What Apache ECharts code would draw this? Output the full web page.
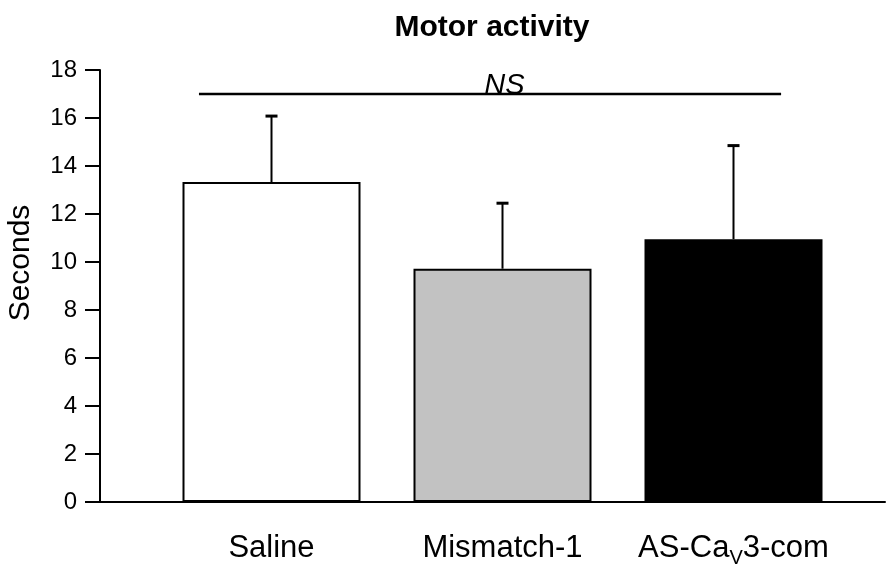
<!DOCTYPE html>
<html>
<head>
<meta charset="utf-8">
<script src="https://cdn.jsdelivr.net/npm/echarts@6/dist/echarts.min.js"></script>
<style>
  html, body { margin: 0; padding: 0; background: #fff; }
</style>
</head>
<body>
<div id="motor_chart" style="width: 887px; height: 567px"></div>
<script>
// data
var categories = ['Saline', 'Mismatch-1', 'AS-CaV3-com']
var means = [13.33, 9.72, 10.95]
var sem = [2.75, 2.73, 3.9]
var barColors = ['#ffffff', '#c2c2c2', '#000000']
var yMin = 0
var yMax = 18
var yStep = 2
var nsLevel = 17

var FONT = 'Liberation Sans, Arial, sans-serif'

// label with subscript V for the last group
var richLabels = {
  'AS-CaV3-com': '{a|AS-Ca}{s|V}{a|3-com}'
}

var myChart = echarts.init(document.getElementById('motor_chart'))

var barData = means.map(function (m, i) {
  return {value: m, itemStyle: {color: barColors[i]}}
})

var errData = means.map(function (m, i) {
  return [i, m, m + sem[i]]
})

var option = {
  backgroundColor: '#fff',
  animation: false,
  title: {
    text: 'Motor activity',
    left: 487,
    top: 8,
    textAlign: 'center',
    textStyle: {fontFamily: FONT, fontSize: 30, fontWeight: 'bold', color: '#000'}
  },
  grid: [
    {left: 156, right: 38, top: 70, bottom: 65, outerBoundsMode: 'none'},
    {left: 100, right: 2, top: 70, bottom: 65, outerBoundsMode: 'none'}
  ],
  xAxis: [
    {
      type: 'category',
      gridIndex: 0,
      data: categories,
      axisLine: {show: false},
      axisTick: {show: false},
      axisLabel: {
        margin: 31,
        color: '#000',
        formatter: function (v) {
          return richLabels[v] || '{a|' + v + '}'
        },
        rich: {
          a: {fontFamily: FONT, fontSize: 31, color: '#000', verticalAlign: 'bottom', padding: [0, 0, 4, 0]},
          s: {fontFamily: FONT, fontSize: 20, color: '#000', verticalAlign: 'bottom'}
        }
      }
    },
    {
      type: 'value',
      gridIndex: 1,
      min: 0,
      max: 1,
      axisLine: {show: true, onZero: false, lineStyle: {color: '#000', width: 2}},
      axisTick: {show: false},
      axisLabel: {show: false},
      splitLine: {show: false}
    }
  ],
  yAxis: [
    {
      type: 'value',
      gridIndex: 0,
      min: yMin,
      max: yMax,
      interval: yStep,
      offset: 56,
      name: 'Seconds',
      nameLocation: 'middle',
      nameGap: 64,
      nameTextStyle: {fontFamily: FONT, fontSize: 30, color: '#000', padding: [0, 0, 0, 46]},
      axisLine: {show: true, lineStyle: {color: '#000', width: 2}},
      axisTick: {show: true, inside: false, length: 15, lineStyle: {color: '#000', width: 2}},
      axisLabel: {margin: 23, fontFamily: FONT, fontSize: 24, color: '#000'},
      splitLine: {show: false}
    },
    {
      type: 'value',
      gridIndex: 1,
      show: false
    }
  ],
  series: [
    {
      type: 'bar',
      xAxisIndex: 0,
      yAxisIndex: 0,
      barWidth: 178,
      data: barData,
      itemStyle: {borderColor: '#000', borderWidth: 2}
    },
    {
      type: 'custom',
      xAxisIndex: 0,
      yAxisIndex: 0,
      data: errData,
      z: 3,
      renderItem: function (params, api) {
        var x = api.value(0)
        var base = api.coord([x, api.value(1)])
        var top = api.coord([x, api.value(2)])
        return {
          type: 'group',
          children: [
            {
              type: 'line',
              shape: {x1: base[0], y1: base[1], x2: top[0], y2: top[1]},
              style: {stroke: '#000', lineWidth: 2}
            },
            {
              type: 'line',
              shape: {x1: top[0] - 6, y1: top[1], x2: top[0] + 6, y2: top[1]},
              style: {stroke: '#000', lineWidth: 3}
            }
          ]
        }
      }
    },
    {
      // NS bracket across all groups
      type: 'custom',
      xAxisIndex: 0,
      yAxisIndex: 0,
      data: [[0, 2, nsLevel]],
      z: 3,
      renderItem: function (params, api) {
        var bw = api.size([1, 0])[0]
        var p0 = api.coord([api.value(0), api.value(2)])
        var p1 = api.coord([api.value(1), api.value(2)])
        var mid = api.coord([1, api.value(2)])
        return {
          type: 'group',
          children: [
            {
              type: 'line',
              shape: {x1: p0[0] - 0.314 * bw, y1: p0[1], x2: p1[0] + 0.206 * bw, y2: p1[1]},
              style: {stroke: '#000', lineWidth: 2.5}
            },
            {
              type: 'text',
              x: mid[0] + 2,
              y: mid[1] + 6,
              style: {
                text: 'NS',
                fontFamily: FONT,
                fontSize: 29,
                fontStyle: 'italic',
                fill: '#000',
                align: 'center',
                verticalAlign: 'bottom'
              }
            }
          ]
        }
      }
    }
  ]
}

myChart.setOption(option)
</script>
</body>
</html>
